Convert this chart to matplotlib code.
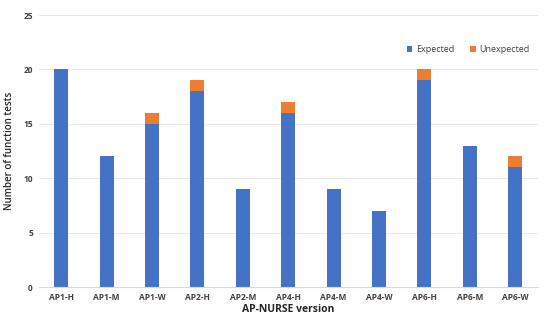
import matplotlib.pyplot as plt
import numpy as np

versions = ['AP1-H', 'AP1-M', 'AP1-W', 'AP2-H', 'AP2-M', 'AP4-H',
            'AP4-M', 'AP4-W', 'AP6-H', 'AP6-M', 'AP6-W']
expected = [20, 12, 15, 18, 9, 16, 9, 7, 19, 13, 11]
unexpected = [0, 0, 1, 1, 0, 1, 0, 0, 1, 0, 1]

plt.rcParams['font.family'] = 'Open Sans'
fig = plt.figure(figsize=(5.5, 3.2), dpi=100)
ax = fig.add_axes([0.07, 0.103, 0.908, 0.85])

x = np.arange(len(versions))
ax.bar(x, expected, width=0.31, color='#4472C4', label='Expected', zorder=2)
ax.bar(x, unexpected, width=0.31, bottom=expected, color='#ED7D31',
       label='Unexpected', zorder=2)

ax.set_xlim(-0.5, len(versions) - 0.5)
ax.set_ylim(0, 25)
ax.set_yticks([0, 5, 10, 15, 20, 25])
ax.set_xticks(x)
ax.set_xticklabels(versions, fontsize=6, fontweight='bold', color='#404040')
for t in ax.get_yticklabels():
    t.set_fontweight('bold')
ax.tick_params(axis='y', labelsize=6, labelcolor='#404040')
ax.tick_params(length=0, pad=4)
ax.grid(axis='y', color='#e8e8e8', linewidth=0.7, zorder=0)
for s in ['top', 'right', 'left']:
    ax.spines[s].set_visible(False)
ax.spines['bottom'].set_color('#d9d9d9')

ax.set_xlabel('AP-NURSE version', fontsize=7.5, fontweight='bold', color='#262626', labelpad=2)
ax.set_ylabel('Number of function tests', fontsize=7, fontweight='semibold', color='#262626', labelpad=6)

ax.legend(loc='upper right', bbox_to_anchor=(1.0, 0.92), ncol=2, frameon=False,
          fontsize=6.5, handlelength=0.6, handleheight=0.6, columnspacing=1.8,
          handletextpad=0.4, labelcolor='#404040')

fig.savefig('out.png')
plt.close()
